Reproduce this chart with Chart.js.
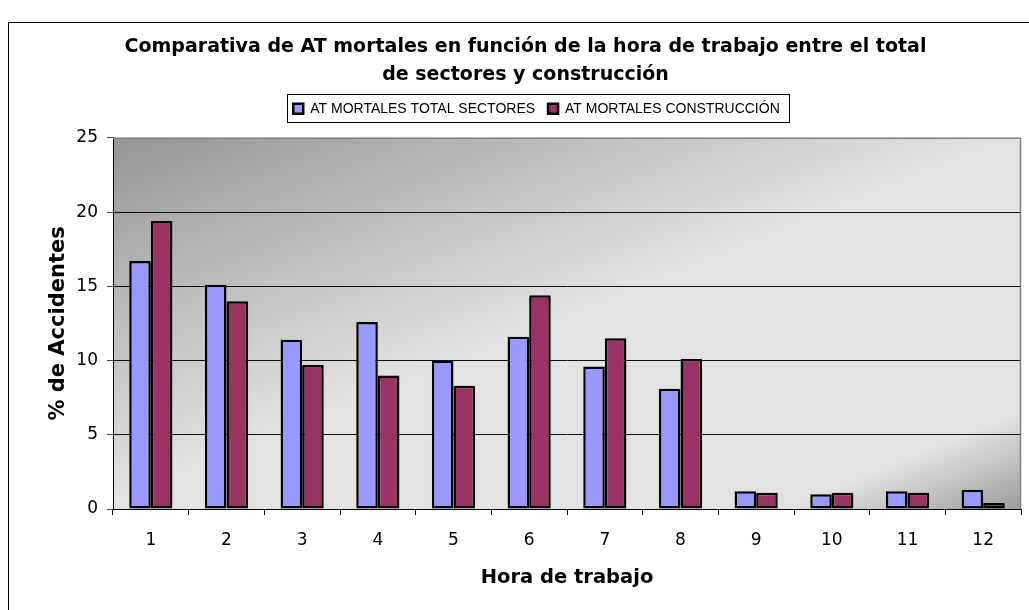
<!DOCTYPE html>
<html>
<head>
<meta charset="utf-8">
<script src="https://cdn.jsdelivr.net/npm/chart.js@4.4.1/dist/chart.umd.min.js"></script>
<style>
    body { margin: 0; background: #fff; }
    #wrap { width: 1029px; height: 610px; position: relative; }
</style>
</head>
<body>
<div id="wrap"><canvas id="atChart"></canvas></div>
<script>
// Datos del gráfico
const horas = ['1', '2', '3', '4', '5', '6', '7', '8', '9', '10', '11', '12'];
const totalSectores = [16.7, 15.1, 11.4, 12.6, 10.0, 11.6, 9.6, 8.1, 1.2, 1.0, 1.2, 1.3];
const construccion = [19.4, 14.0, 9.7, 9.0, 8.3, 14.4, 11.5, 10.1, 1.1, 1.1, 1.1, 0.4];
const yTicks = [0, 5, 10, 15, 20, 25];

const tituloGrafico = ['Comparativa de AT mortales en función de la hora de trabajo entre el total', 'de sectores y construcción'];

// Fondo degradado del área de trazado + marco exterior
const fondoPlugin = {
    id: 'fondo',
    afterInit(chart) {
        // dejar espacio debajo de la leyenda
        const leyenda = chart.legend;
        if (leyenda) {
            const fitOrig = leyenda.fit;
            leyenda.fit = function() {
                fitOrig.call(this);
                this.height += 12;
            };
        }
    },
    afterLayout(chart) {
        // desplazar un poco la leyenda a la derecha
        const leyenda = chart.legend;
        if (leyenda) {
            leyenda.left += 11;
            leyenda.right += 11;
        }
    },
    beforeDraw(chart) {
        const { ctx, chartArea: a } = chart;
        ctx.save();
        // marco exterior
        ctx.strokeStyle = '#000';
        ctx.lineWidth = 1;
        ctx.strokeRect(8.5, 22.5, 1100, 700);
        // degradado
        const dx = 360, dy = 887, len = 957;
        const L = 685;
        const g = ctx.createLinearGradient(a.left, a.top, a.left + dx / len * L, a.top + dy / len * L);
        g.addColorStop(0, '#959595');
        g.addColorStop(0.49, '#e3e3e3');
        g.addColorStop(0.87, '#e3e3e3');
        g.addColorStop(1, '#9c9c9c');
        ctx.fillStyle = g;
        ctx.fillRect(a.left, a.top, a.right - a.left, a.bottom - a.top);
        ctx.restore();
    },
    afterDraw(chart) {
        const { ctx, chartArea: a, legend } = chart;
        ctx.save();
        // borde superior y derecho del área
        ctx.strokeStyle = '#808080';
        ctx.lineWidth = 1.5;
        ctx.beginPath();
        ctx.moveTo(a.left, a.top + 0.5);
        ctx.lineTo(a.right - 0.5, a.top + 0.5);
        ctx.lineTo(a.right - 0.5, a.bottom);
        ctx.stroke();
        // caja de la leyenda
        const boxes = legend.legendHitBoxes;
        if (boxes && boxes.length) {
            const first = boxes[0];
            const last = boxes[boxes.length - 1];
            const x0 = first.left - 6;
            const x1 = last.left + last.width + 9;
            const yc = first.top + first.height / 2;
            ctx.strokeStyle = '#000';
            ctx.lineWidth = 1;
            ctx.strokeRect(Math.round(x0) + 0.5, Math.round(yc - 15) + 0.5, Math.round(x1 - x0), 28);
        }
        ctx.restore();
    }
};

const ctx = document.getElementById('atChart').getContext('2d');
const atChart = new Chart(ctx, {
    type: 'bar',
    data: {
        labels: horas,
        datasets: [{
            label: 'AT MORTALES TOTAL SECTORES',
            data: totalSectores,
            backgroundColor: '#9999FF',
            borderColor: '#000',
            borderWidth: 2.5,
            borderSkipped: false,
            categoryPercentage: 0.571,
            barPercentage: 1.0
        }, {
            label: 'AT MORTALES CONSTRUCCIÓN',
            data: construccion,
            backgroundColor: '#993366',
            borderColor: '#000',
            borderWidth: 2.5,
            borderSkipped: false,
            categoryPercentage: 0.571,
            barPercentage: 1.0
        }]
    },
    options: {
        responsive: true,
        maintainAspectRatio: false,
        animation: false,
        layout: {
            padding: { top: 22, left: 30, right: 8, bottom: 10 }
        },
        scales: {
            x: {
                afterFit(scale) { scale.height = 91; },
                grid: {
                    display: true,
                    drawOnChartArea: false,
                    offset: true,
                    tickLength: 6,
                    color: '#000'
                },
                border: { color: '#000', width: 1 },
                ticks: {
                    color: '#000',
                    padding: 15,
                    font: { family: 'DejaVu Sans', size: 17 }
                },
                title: {
                    display: true,
                    text: 'Hora de trabajo',
                    color: '#000',
                    padding: { top: 0, bottom: 10 },
                    font: { family: 'DejaVu Sans', size: 19.5, weight: 'bold' }
                }
            },
            y: {
                min: 0,
                max: 25,
                afterFit(scale) { scale.width = 83; },
                afterBuildTicks(scale) {
                    scale.ticks = yTicks.map(v => ({ value: v }));
                },
                grid: {
                    color: (c) => c.tick && c.tick.value === 25 ? 'rgba(0,0,0,0)' : '#111',
                    tickColor: '#444',
                    tickLength: 6,
                    lineWidth: 1
                },
                border: { color: '#000', width: 1 },
                ticks: {
                    color: '#000',
                    padding: 9,
                    font: { family: 'DejaVu Sans', size: 17 }
                },
                title: {
                    display: true,
                    text: '% de Accidentes',
                    color: '#000',
                    padding: { top: 16, bottom: 0 },
                    font: { family: 'DejaVu Sans', size: 21, weight: 'bold' }
                }
            }
        },
        plugins: {
            title: {
                display: true,
                text: tituloGrafico,
                color: '#000',
                padding: { top: 11, bottom: 0 },
                font: { family: 'DejaVu Sans', size: 19, weight: 'bold', lineHeight: 1.47 }
            },
            legend: {
                display: true,
                labels: {
                    color: '#000',
                    boxWidth: 10,
                    boxHeight: 10,
                    padding: 13,
                    font: { family: 'Liberation Sans, Arial', size: 14 }
                }
            },
            tooltip: { enabled: false }
        }
    },
    plugins: [fondoPlugin]
});
</script>
</body>
</html>
